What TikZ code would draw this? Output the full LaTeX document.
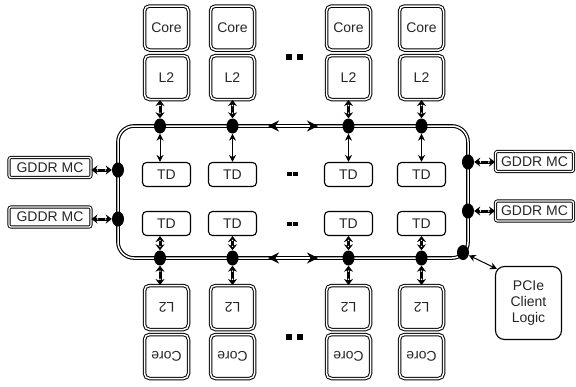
\documentclass[tikz,border=0pt]{standalone}
\usepackage{fontspec}
\setmainfont{Liberation Sans}
\usetikzlibrary{arrows.meta,shapes.geometric,calc}
\begin{document}
\begin{tikzpicture}[x=1pt,y=-1pt,
  every node/.style={font=\fontsize{14}{16}\selectfont, text=black!85},
  dbox/.style={draw, double, double distance=1.5pt, line width=1pt, rounded corners=5pt, minimum width=44pt, minimum height=44pt, inner sep=0pt},
  tdbox/.style={draw, line width=1.1pt, rounded corners=4pt, minimum width=48pt, minimum height=24pt, inner sep=0pt},
  gbox/.style={draw, double, double distance=1.3pt, line width=0.9pt, rounded corners=2pt, minimum height=20pt, inner sep=0pt},
  pbox/.style={draw, line width=1.1pt, rounded corners=9pt, minimum width=66pt, minimum height=73pt, align=center, inner sep=0pt},
  ringbox/.style={draw, double, double distance=1.5pt, line width=1.1pt, rounded corners=16pt, inner sep=0pt},
  ball/.style={ellipse, fill=black, minimum width=12pt, minimum height=15pt, inner sep=0pt},
  dconn/.style={line width=3pt, {Stealth[length=6pt,width=9pt]}-{Stealth[length=6pt,width=9pt]}},
  wdot/.style={circle, fill=white, inner sep=0pt, minimum size=1.6pt},
  tconn/.style={line width=1pt, {Stealth[length=7pt,width=7pt]}-{Stealth[length=7pt,width=7pt]}},
  ringarrow/.style={white, line width=1.4pt, {Stealth[black,length=11pt,width=11pt]}-{Stealth[black,length=11pt,width=11pt]}},
  sqbig/.style={fill=black, inner sep=0pt, minimum size=6pt},
  sqsmall/.style={fill=black, inner sep=0pt, minimum width=5pt, minimum height=4pt},
]
\useasboundingbox (0,0) rectangle (576,386);

% ring
\node[ringbox, minimum width=350pt, minimum height=132pt] (ring) at (293,192) {};

% columns
\foreach \i/\bx/\cx in {1/166.5/160, 2/232.5/232.5, 3/348.5/348.5, 4/421.5/421.5} {
  \node[dbox] (ct\i) at (\bx,28) {Core};
  \node[dbox] (lt\i) at (\bx,77.5) {L2};
  \node[tdbox] (tda\i) at (\bx,174.5) {TD};
  \node[tdbox] (tdb\i) at (\bx,223.5) {TD};
  \node[dbox, rotate=180] (lb\i) at (\bx,307.5) {L2};
  \node[dbox, rotate=180] (cb\i) at (\bx,356.5) {Core};
  \node[ball] (bt\i) at (\cx,126) {};
  \node[ball] (bb\i) at (\cx,258) {};
  \draw[dconn] (bt\i |- lt\i.south) -- (bt\i) node[pos=0.3, wdot] {} node[pos=0.72, wdot] {};
  \draw[tconn] (bt\i) -- (bt\i |- tda\i.north);
  \draw[dconn] (bb\i |- tdb\i.south) -- (bb\i) node[pos=0.3, wdot] {} node[pos=0.72, wdot] {};
  \draw[dconn] (bb\i) -- (bb\i |- lb\i.south) node[pos=0.28, wdot] {} node[pos=0.7, wdot] {};
}

% ring direction arrows
\coordinate (ra1) at (268,126);
\coordinate (ra2) at (318,126);
\coordinate (rb1) at (268,258);
\coordinate (rb2) at (318,258);
\draw[ringarrow] (ra1) -- (ra2);
\draw[ringarrow] (rb1) -- (rb2);

% ellipsis squares
\node[sqbig] (d1) at (288.5,56.5) {};
\node[sqbig] (d2) at (300,56.5) {};
\node[sqsmall] (d3) at (289.5,173.7) {};
\node[sqsmall] (d4) at (295.5,173.7) {};
\node[sqsmall] (d5) at (289.5,223.7) {};
\node[sqsmall] (d6) at (295.5,223.7) {};
\node[sqbig] (d7) at (288.5,336.5) {};
\node[sqbig] (d8) at (300,336.5) {};

% GDDR MC left
\node[gbox, minimum width=82pt] (gl1) at (50,167.5) {GDDR MC};
\node[gbox, minimum width=82pt] (gl2) at (50,217) {GDDR MC};
\node[ball] (bl1) at (118,170) {};
\node[ball] (bl2) at (118,219) {};
\draw[dconn] (gl1.east |- bl1) -- (bl1) node[pos=0.3, wdot] {} node[pos=0.7, wdot] {};
\draw[dconn] (gl2.east |- bl2) -- (bl2) node[pos=0.3, wdot] {} node[pos=0.7, wdot] {};

% GDDR MC right
\node[gbox, minimum width=78pt] (gr1) at (534.5,161.5) {GDDR MC};
\node[gbox, minimum width=78pt] (gr2) at (534.5,211) {GDDR MC};
\node[ball] (br1) at (468,162) {};
\node[ball] (br2) at (468,211) {};
\draw[dconn] (br1) -- (gr1.west |- br1) node[pos=0.3, wdot] {} node[pos=0.7, wdot] {};
\draw[dconn] (br2) -- (gr2.west |- br2) node[pos=0.3, wdot] {} node[pos=0.7, wdot] {};

% PCIe
\node[pbox] (pcie) at (528.5,303) {PCIe\\Client\\Logic};
\node[ball] (bp) at (463,252.5) {};
\draw[tconn] (bp) -- ($(pcie.north west)+(2,3)$);
\end{tikzpicture}
\end{document}
